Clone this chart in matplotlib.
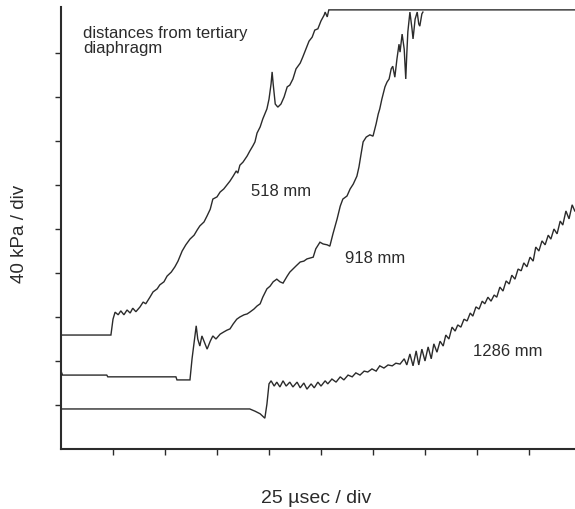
import matplotlib
matplotlib.use('Agg')
import matplotlib.pyplot as plt

# pressure traces, in divisions (x: 25 usec/div, y: 40 kPa/div)
x518 = [0, 0.96, 1.00, 1.04, 1.10, 1.15, 1.21, 1.27, 1.33, 1.38,
        1.44, 1.52, 1.58, 1.63, 1.71, 1.77, 1.85, 1.90, 1.98, 2.04,
        2.12, 2.19, 2.25, 2.33, 2.40, 2.48, 2.56, 2.62, 2.67, 2.75,
        2.81, 2.87, 2.92, 3.00, 3.06, 3.13, 3.19, 3.25, 3.31, 3.37,
        3.40, 3.44, 3.50, 3.58, 3.63, 3.69, 3.73, 3.77, 3.83, 3.88,
        3.96, 4.00, 4.04, 4.06, 4.08, 4.12, 4.17, 4.23, 4.29, 4.35,
        4.40, 4.46, 4.52, 4.60, 4.65, 4.71, 4.77, 4.83, 4.88, 4.94,
        5.00, 5.06, 5.08, 5.12, 5.15, 9.88]
y518 = [2.59, 2.59, 2.95, 3.11, 3.05, 3.14, 3.05, 3.16, 3.09, 3.20,
        3.12, 3.23, 3.34, 3.30, 3.45, 3.57, 3.64, 3.73, 3.80, 3.93,
        4.02, 4.14, 4.27, 4.50, 4.64, 4.77, 4.86, 4.98, 5.07, 5.16,
        5.30, 5.45, 5.68, 5.73, 5.84, 5.91, 6.00, 6.09, 6.20, 6.32,
        6.27, 6.45, 6.52, 6.66, 6.77, 6.89, 6.98, 7.18, 7.32, 7.50,
        7.73, 7.95, 8.30, 8.57, 8.30, 7.84, 7.77, 7.84, 8.00, 8.23,
        8.27, 8.41, 8.64, 8.77, 8.91, 9.09, 9.27, 9.36, 9.52, 9.55,
        9.73, 9.86, 9.93, 9.82, 9.98, 9.98]

x918 = [0, 0.03, 0.88, 0.90, 2.21, 2.23, 2.48, 2.52, 2.58, 2.60,
        2.63, 2.67, 2.71, 2.77, 2.81, 2.87, 2.92, 2.98, 3.06, 3.13,
        3.19, 3.25, 3.31, 3.38, 3.44, 3.52, 3.58, 3.63, 3.71, 3.77,
        3.83, 3.88, 3.96, 4.02, 4.08, 4.15, 4.21, 4.27, 4.35, 4.40,
        4.46, 4.52, 4.60, 4.67, 4.73, 4.79, 4.85, 4.90, 4.98, 5.04,
        5.12, 5.17, 5.23, 5.31, 5.37, 5.42, 5.50, 5.56, 5.62, 5.69,
        5.73, 5.77, 5.81, 5.87, 5.94, 6.00, 6.06, 6.10, 6.13, 6.17,
        6.23, 6.27, 6.31, 6.35, 6.38, 6.42, 6.46, 6.50, 6.52, 6.56,
        6.60, 6.63, 6.65, 6.67, 6.71, 6.75, 6.77, 6.81, 6.85, 6.88,
        6.90, 6.94, 6.96]
y918 = [1.77, 1.68, 1.68, 1.64, 1.64, 1.57, 1.57, 2.05, 2.61, 2.80,
        2.50, 2.34, 2.57, 2.39, 2.27, 2.45, 2.57, 2.50, 2.61, 2.66,
        2.70, 2.73, 2.84, 2.95, 3.00, 3.05, 3.07, 3.11, 3.18, 3.25,
        3.30, 3.45, 3.64, 3.70, 3.80, 3.86, 3.80, 3.77, 3.93, 4.02,
        4.09, 4.16, 4.25, 4.27, 4.32, 4.34, 4.36, 4.55, 4.70, 4.66,
        4.64, 4.61, 4.89, 5.23, 5.52, 5.68, 5.75, 5.91, 6.02, 6.20,
        6.41, 6.70, 6.98, 7.09, 7.14, 7.11, 7.39, 7.61, 7.73, 7.95,
        8.23, 8.34, 8.41, 8.64, 8.70, 8.45, 8.86, 9.20, 9.02, 9.43,
        9.09, 8.41, 8.98, 9.48, 9.93, 9.55, 9.32, 9.77, 9.93, 9.66,
        9.61, 9.89, 9.93]

x1286 = [0, 3.63, 3.73, 3.83, 3.92, 3.96, 4.00, 4.04, 4.10, 4.15,
         4.21, 4.27, 4.33, 4.40, 4.46, 4.54, 4.60, 4.67, 4.73, 4.81,
         4.87, 4.94, 5.00, 5.08, 5.13, 5.21, 5.29, 5.37, 5.44, 5.52,
         5.60, 5.67, 5.75, 5.83, 5.90, 5.98, 6.06, 6.13, 6.21, 6.29,
         6.37, 6.44, 6.52, 6.60, 6.65, 6.71, 6.77, 6.83, 6.88, 6.94,
         7.00, 7.06, 7.12, 7.17, 7.23, 7.29, 7.35, 7.40, 7.46, 7.52,
         7.58, 7.63, 7.69, 7.75, 7.81, 7.87, 7.92, 7.98, 8.04, 8.10,
         8.15, 8.21, 8.27, 8.33, 8.38, 8.44, 8.50, 8.56, 8.62, 8.67,
         8.73, 8.79, 8.85, 8.90, 8.96, 9.02, 9.08, 9.13, 9.19, 9.25,
         9.31, 9.37, 9.42, 9.48, 9.54, 9.60, 9.65, 9.71, 9.77, 9.83,
         9.88]
y1286 = [0.91, 0.91, 0.86, 0.80, 0.70, 1.02, 1.48, 1.55, 1.43, 1.52,
         1.41, 1.55, 1.43, 1.52, 1.41, 1.52, 1.39, 1.50, 1.36, 1.48,
         1.39, 1.52, 1.43, 1.55, 1.48, 1.59, 1.52, 1.64, 1.57, 1.68,
         1.64, 1.73, 1.68, 1.77, 1.75, 1.82, 1.77, 1.89, 1.84, 1.91,
         1.89, 1.95, 1.93, 2.05, 1.91, 2.16, 1.89, 2.23, 1.91, 2.27,
         2.00, 2.32, 2.05, 2.39, 2.20, 2.45, 2.34, 2.59, 2.50, 2.77,
         2.68, 2.82, 2.77, 2.95, 2.91, 3.09, 3.02, 3.23, 3.18, 3.36,
         3.30, 3.45, 3.36, 3.50, 3.45, 3.68, 3.59, 3.82, 3.75, 3.95,
         3.86, 4.09, 4.05, 4.23, 4.14, 4.36, 4.27, 4.59, 4.50, 4.73,
         4.64, 4.86, 4.77, 5.00, 4.89, 5.18, 5.09, 5.41, 5.23, 5.55,
         5.41]

labels = ['518 mm', '918 mm', '1286 mm']
label_pos = [(3.65, 5.88), (5.46, 4.36), (7.92, 2.23)]

plt.rcParams['font.family'] = ['Liberation Sans', 'DejaVu Sans']
ink = '#2b2b2b'

fig = plt.figure(figsize=(5.75, 5.10), dpi=100)
ax = fig.add_axes([61 / 575, 60 / 510, 514 / 575, 442 / 510])

for xs, ys in [(x518, y518), (x918, y918), (x1286, y1286)]:
    ax.plot(xs, ys, color=ink, lw=1.0, solid_joinstyle='miter')

for txt, (tx, ty) in zip(labels, label_pos):
    ax.text(tx, ty, txt, fontsize=12, color=ink, ha='left', va='center')

ax.text(0.42, 9.63, 'distances from tertiary\ndiaphragm', fontsize=12,
        color=ink, ha='left', va='top', linespacing=1.0)

ax.set_xlim(0, 514 / 52)
ax.set_ylim(0, 442 / 44)
ax.set_xticks(range(1, 10))
ax.set_yticks(range(1, 10))
ax.set_xticklabels([])
ax.set_yticklabels([])
ax.tick_params(direction='out', length=4, width=1, color=ink)
for s in ['top', 'right']:
    ax.spines[s].set_visible(False)
for s in ['left', 'bottom']:
    ax.spines[s].set_linewidth(1.5)
    ax.spines[s].set_color(ink)

fig.text(20 / 575, 1 - 234 / 510, '40 kPa / div', rotation=90, fontsize=13.5,
         color=ink, ha='center', va='center')
fig.text(316 / 575, 1 - 499 / 510, '25 \u00b5sec / div', fontsize=14,
         color=ink, ha='center', va='center')

fig.savefig('out.png', dpi=100, facecolor='white')
